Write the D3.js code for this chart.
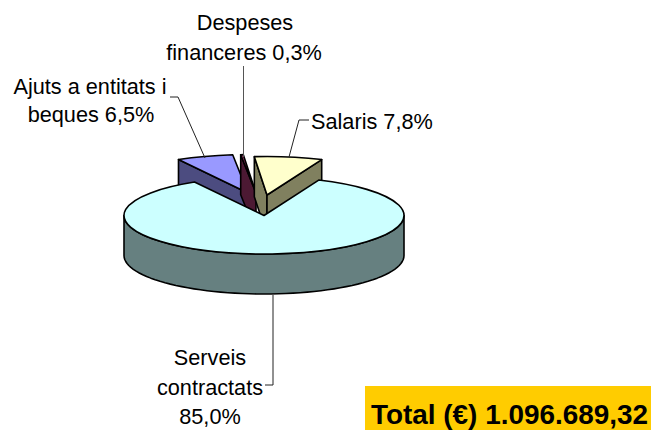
<!DOCTYPE html>
<html><head><meta charset="utf-8">
<script src="https://cdn.jsdelivr.net/npm/d3@7"></script>
<style>html,body{margin:0;padding:0;background:#fff}svg{display:block}text{font-family:"Liberation Sans",Arial,sans-serif;fill:#000}</style>
</head><body><div id="c"></div>
<script>
const categories = ["Serveis contractats","Ajuts a entitats i beques","Despeses financeres","Salaris"];
const values = [85.0,6.5,0.3,7.8];
const topColors = ["#CCFFFF","#9999FF","#993366","#FFFFCC"];
const wallColors = ["#668080","#4C4C80","#4C1933","#80805F"];
const total = "Total (€) 1.096.689,32";

const W=651,H=430,RX=140,RY=38.5,DEPTH=40;
const CX=264,CY=215.5;
const apex=[[CX,CY],[248,193],[256,193],[267,195]];
const drawOrder=[1,2,3,0];
const startDeg=23;

const svg=d3.select("#c").append("svg").attr("width",W).attr("height",H);
const arcs=d3.pie().sort(null).startAngle(startDeg*Math.PI/180).endAngle((startDeg+360)*Math.PI/180)(values);
const sx=d3.scaleLinear().domain([-1,1]).range([-RX,RX]);
const sy=d3.scaleLinear().domain([-1,1]).range([-RY,RY]);
const rim=(a,c)=>[c[0]+sx(Math.sin(a)),c[1]+sy(-Math.cos(a))];
const line=d3.line();
const arcGen=d3.arc().innerRadius(0).outerRadius(RX);

function poly(g,pts,fill){g.append("path").attr("d",line(pts)+"Z").attr("fill",fill).attr("stroke","#000").attr("stroke-width",1.6).attr("stroke-linejoin","round");}

drawOrder.forEach(i=>{
  const s=arcs[i],c=apex[i],g=svg.append("g");
  const wall=(a,side)=>{
    const nCos=Math.cos(a+side*Math.PI/2);
    if(nCos>=0) return;
    const p=rim(a,c);
    poly(g,[c,p,[p[0],p[1]+DEPTH],[c[0],c[1]+DEPTH]],wallColors[i]);
  };
  wall(s.startAngle,-1);
  wall(s.endAngle,1);
  const a0=Math.max(s.startAngle,Math.PI/2),a1=Math.min(s.endAngle,Math.PI*1.5);
  if(a1>a0){
    const n=d3.range(0,61).map(k=>rim(a0+(a1-a0)*k/60,c));
    const low=n.map(p=>[p[0],p[1]+DEPTH]).reverse();
    poly(g,n.concat(low),wallColors[i]);
  }
  g.append("path")
    .attr("transform",`translate(${c[0]},${c[1]}) scale(1,${RY/RX})`)
    .attr("d",arcGen(s))
    .attr("fill",topColors[i]).attr("stroke","#000").attr("stroke-width",1.6)
    .attr("vector-effect","non-scaling-stroke").attr("stroke-linejoin","round");
});

[[[289,157],[299,120],[309,120]],[[273,295],[273,385],[265,385]],[[205,158],[178,97],[170,97]],[[243.5,157],[243.5,66]]]
.forEach((l,i)=>svg.append("path").attr("d",line(l)).attr("fill","none").attr("stroke",i==3?"#555":"#222").attr("stroke-width",1));

const labels=[
 ["Despeses",245,30,"middle"],["financeres 0,3%",244,60,"middle"],
 ["Ajuts a entitats i",90,94,"middle"],["beques 6,5%",91,122,"middle"],
 ["Salaris 7,8%",311,129,"start"],
 ["Serveis",210,365,"middle"],["contractats",210,395,"middle"],["85,0%",210,424,"middle"]];
svg.selectAll("text.l").data(labels).join("text").attr("class","l")
  .attr("x",d=>d[1]).attr("y",d=>d[2]).attr("text-anchor",d=>d[3]).attr("font-size",21.7).text(d=>d[0]);

svg.append("rect").attr("x",365).attr("y",386).attr("width",286).attr("height",44).attr("fill","#FFCC00");
svg.append("text").attr("x",371).attr("y",424).attr("font-size",27.9).attr("font-weight","bold").text(total);
</script></body></html>
